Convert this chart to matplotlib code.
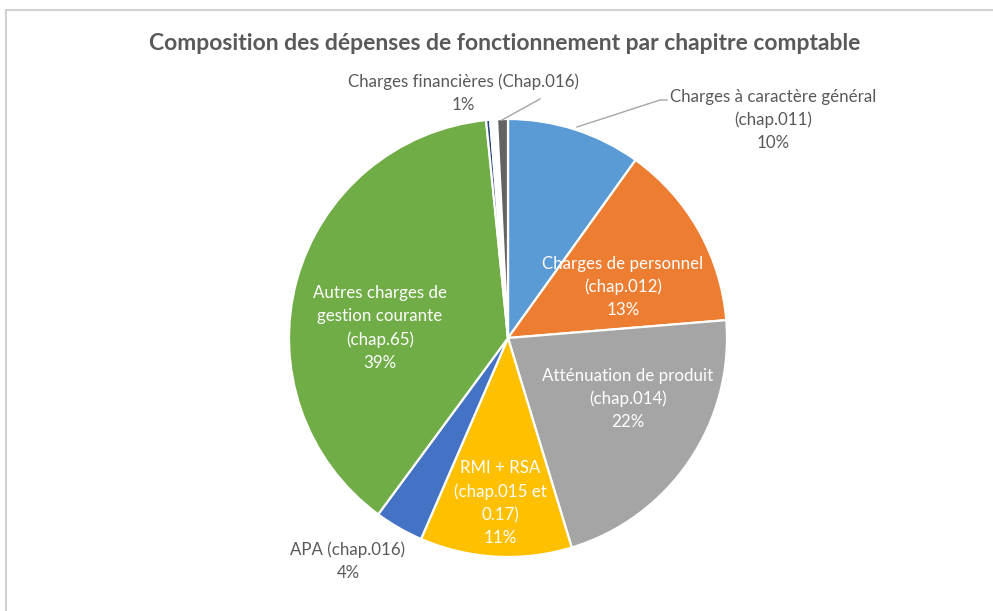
import matplotlib
matplotlib.use('Agg')
import matplotlib.pyplot as plt
from matplotlib.lines import Line2D

# slice shares (clockwise from 12 o'clock)
shares = [9.9, 13.8, 21.6, 11.2, 3.6, 38.3, 0.3, 0.5, 0.8]
colors = ['#5B9BD5', '#ED7D31', '#A5A5A5', '#FFC000', '#4472C4',
          '#70AD47', '#264478', '#FFFFFF', '#636363']

# label texts
lbl_general = 'Charges à caractère général\n(chap.011)\n10%'
lbl_personnel = 'Charges de personnel\n(chap.012)\n13%'
lbl_attenuation = 'Atténuation de produit\n(chap.014)\n22%'
lbl_rmi = 'RMI + RSA\n(chap.015 et\n0.17)\n11%'
lbl_apa = 'APA (chap.016)\n4%'
lbl_autres = 'Autres charges de\ngestion courante\n(chap.65)\n39%'
lbl_financieres = 'Charges financières (Chap.016)\n1%'

title = 'Composition des dépenses de fonctionnement par chapitre comptable'

W, H = 993, 611
plt.rcParams['font.family'] = ['Lato', 'DejaVu Sans']

fig = plt.figure(figsize=(W / 100, H / 100), dpi=100)
ax = fig.add_axes([0, 0, 1, 1])


def Y(y):
	# picture rows are counted from the top
	return H - y


ax.pie(shares, colors=colors, startangle=90, counterclock=False,
       center=(508, Y(338)), radius=219, frame=True,
       wedgeprops=dict(edgecolor='white', linewidth=1.6))
ax.set_xlim(0, W)
ax.set_ylim(0, H)
ax.set_aspect('equal')
ax.axis('off')

# frame lines of the original screenshot
ax.add_line(Line2D([6, W], [Y(9.5), Y(9.5)], color='#D0D0D0', lw=1.5))
ax.add_line(Line2D([6, 6], [Y(9.5), 0], color='#D0D0D0', lw=1.5))

ax.text(505, Y(44), title, ha='center', va='center', fontsize=16.5,
        fontweight='bold', color='#595959')

dark = '#595959'
fs = 12.2
ls = 1.54

ax.text(773, Y(120), lbl_general, ha='center', va='center', fontsize=fs,
        color=dark, linespacing=ls)
ax.text(463, Y(93), lbl_financieres, ha='center', va='center', fontsize=fs,
        color=dark, linespacing=ls)
ax.text(348, Y(561), lbl_apa, ha='center', va='center', fontsize=fs,
        color=dark, linespacing=ls)

ax.text(623, Y(287), lbl_personnel, ha='center', va='center', fontsize=fs,
        color='white', linespacing=ls)
ax.text(628, Y(399), lbl_attenuation, ha='center', va='center', fontsize=fs,
        color='white', linespacing=ls)
ax.text(500, Y(503), lbl_rmi, ha='center', va='center', fontsize=fs,
        color='white', linespacing=ls)
ax.text(380, Y(328), lbl_autres, ha='center', va='center', fontsize=fs,
        color='white', linespacing=ls)

# leader lines
ax.add_line(Line2D([577, 660, 667], [Y(127), Y(100), Y(100)], color='#A6A6A6', lw=1))
ax.add_line(Line2D([502, 540], [Y(120), Y(99)], color='#A6A6A6', lw=1))

fig.savefig('out.png', dpi=100, facecolor='white')
